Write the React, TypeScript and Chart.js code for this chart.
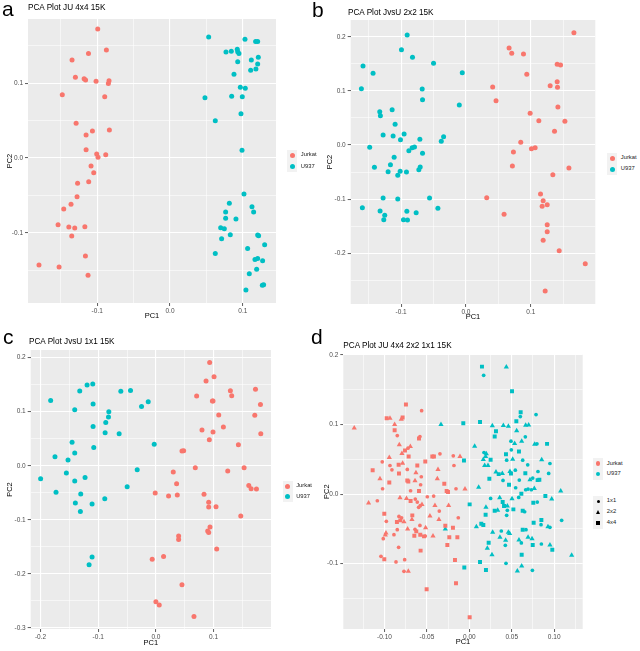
import React, { useEffect, useRef } from 'react';
import Chart from 'chart.js/auto';

const FONT = '"Liberation Sans", Arial, Helvetica, sans-serif';
const RED = '#F8766D';
const TEAL = '#00BFC4';

type Pt = [number, number];

// ---------- Panel a: PCA Plot JU 4x4 15K ----------
const aJurkat: Pt[] = [
  [-0.0993, 0.1728], [-0.112, 0.140], [-0.0874, 0.1446], [-0.1346, 0.1313], [-0.130, 0.108],
  [-0.118, 0.106], [-0.116, 0.1045], [-0.1016, 0.1027], [-0.0838, 0.1036], [-0.0847, 0.0996],
  [-0.148, 0.0848], [-0.0897, 0.0821], [-0.129, 0.0464], [-0.1066, 0.0362], [-0.1153, 0.0308],
  [-0.0833, 0.0375], [-0.1153, 0.0112], [-0.1007, 0.0054], [-0.0883, 0.0045], [-0.0989, 0.0009],
  [-0.1085, -0.0107], [-0.1048, -0.0196], [-0.127, -0.0339], [-0.1117, -0.0317], [-0.1277, -0.0518],
  [-0.136, -0.062], [-0.146, -0.0683], [-0.1538, -0.0893], [-0.139, -0.0924], [-0.1309, -0.0937],
  [-0.117, -0.092], [-0.135, -0.1045], [-0.1162, -0.1313], [-0.180, -0.1433], [-0.1524, -0.146],
  [-0.1126, -0.157],
];
const aU937: Pt[] = [
  [0.0531, 0.162], [0.103, 0.159], [0.1176, 0.156], [0.1204, 0.156], [0.0924, 0.1455],
  [0.093, 0.1424], [0.0947, 0.140], [0.0769, 0.142], [0.0842, 0.143], [0.1213, 0.1348],
  [0.1117, 0.1313], [0.093, 0.129], [0.1204, 0.126], [0.1108, 0.1174], [0.118, 0.119],
  [0.0879, 0.112], [0.0966, 0.0946], [0.1034, 0.0933], [0.048, 0.0808], [0.0847, 0.0826],
  [0.0993, 0.0821], [0.0975, 0.0594], [0.0622, 0.050], [0.0989, 0.0103], [0.1016, -0.0482],
  [0.0815, -0.0607], [0.1126, -0.0652], [0.1149, -0.0723], [0.0764, -0.0723], [0.0764, -0.0808],
  [0.0906, -0.0817], [0.0696, -0.0933], [0.0746, -0.0946], [0.0828, -0.1027], [0.0709, -0.108],
  [0.1204, -0.1031], [0.1217, -0.104], [0.130, -0.116], [0.1066, -0.121], [0.0622, -0.128],
  [0.1204, -0.1344], [0.1167, -0.1357], [0.1272, -0.1375], [0.119, -0.149], [0.1089, -0.155],
  [0.1286, -0.1696], [0.1268, -0.1705], [0.1043, -0.1768],
];
const aXTicks = [-0.1, 0, 0.1];
const aXLabels = ['-0.1', '0.0', '0.1'];
const aYTicks = [-0.1, 0, 0.1];
const aYLabels = ['-0.1', '0.0', '0.1'];

// ---------- Panel b: PCA Plot JvsU 2x2 15K ----------
const bJurkat: Pt[] = [
  [0.1665, 0.2077], [0.0665, 0.1794], [0.0706, 0.1695], [0.0887, 0.1683], [0.0938, 0.1307],
  [0.1407, 0.1492], [0.1459, 0.148], [0.1299, 0.1097], [0.1407, 0.1171], [0.1412, 0.1066],
  [0.0412, 0.1072], [0.0464, 0.082], [0.1418, 0.0703], [0.099, 0.0586], [0.1124, 0.045],
  [0.1526, 0.0438], [0.1366, 0.0253], [0.0845, 0.0049], [0.1067, -0.0049], [0.101, -0.0068],
  [0.0732, -0.0129], [0.0716, -0.0388], [0.1588, -0.0425], [0.134, -0.0549], [0.032, -0.0974],
  [0.115, -0.0906], [0.1191, -0.1029], [0.1175, -0.1134], [0.1253, -0.1103], [0.0588, -0.1282],
  [0.1253, -0.1473], [0.1253, -0.1602], [0.1191, -0.1763], [0.1438, -0.1954], [0.184, -0.2194],
  [0.1222, -0.270],
];
const bU937: Pt[] = [
  [-0.0907, 0.2034], [-0.0995, 0.1763], [-0.0825, 0.1621], [-0.1588, 0.146], [-0.1433, 0.1325],
  [-0.050, 0.151], [-0.0057, 0.1337], [-0.1613, 0.1042], [-0.0675, 0.1035], [-0.067, 0.0838],
  [-0.0103, 0.074], [-0.1139, 0.0653], [-0.133, 0.0616], [-0.132, 0.0542], [-0.1093, 0.0382],
  [-0.1278, 0.0185], [-0.1124, 0.0166], [-0.0954, 0.0203], [-0.101, 0.0099], [-0.0711, 0.0105],
  [-0.0345, 0.0154], [-0.0381, 0.0068], [-0.1485, -0.0043], [-0.083, -0.0049], [-0.0794, -0.0037],
  [-0.0881, -0.0105], [-0.067, -0.0154], [-0.1108, -0.0228], [-0.1165, -0.0364], [-0.1412, -0.0413],
  [-0.0706, -0.0407], [-0.0727, -0.0456], [-0.1201, -0.0493], [-0.1015, -0.0487], [-0.0918, -0.0499],
  [-0.1052, -0.0561], [-0.1278, -0.098], [-0.1052, -0.0998], [-0.0562, -0.098], [-0.1598, -0.1159],
  [-0.0433, -0.1171], [-0.1325, -0.122], [-0.0912, -0.1226], [-0.0768, -0.1251], [-0.1253, -0.130],
  [-0.1268, -0.138], [-0.0964, -0.138], [-0.0902, -0.1387],
];
const bXTicks = [-0.1, 0, 0.1];
const bXLabels = ['-0.1', '0.0', '0.1'];
const bYTicks = [-0.2, -0.1, 0, 0.1, 0.2];
const bYLabels = ['-0.2', '-0.1', '0.0', '0.1', '0.2'];

// ---------- Panel c: PCA Plot JvsU 1x1 15K ----------
const cJurkat: Pt[] = [
  [0.0932, 0.1911], [0.1008, 0.1646], [0.0869, 0.1566], [0.1726, 0.1412], [0.1291, 0.1387],
  [0.1314, 0.1295], [0.0706, 0.1289], [0.0979, 0.1196], [0.099, 0.1196], [0.1812, 0.1134],
  [0.1089, 0.0937], [0.1714, 0.0931], [0.117, 0.0715], [0.0799, 0.066], [0.099, 0.0623],
  [0.1818, 0.0592], [0.0926, 0.0481], [0.143, 0.0388], [0.0452, 0.0271], [0.0481, 0.0277],
  [0.0683, -0.0037], [0.1529, -0.0037], [0.1245, -0.0099], [0.0301, -0.0117], [0.0359, -0.0333],
  [0.161, -0.0364], [0.165, -0.0425], [0.1743, -0.0432], [-0.0012, -0.0506], [0.022, -0.0561],
  [0.0371, -0.0543], [0.0834, -0.053], [0.0915, -0.0678], [0.0915, -0.0764], [0.1042, -0.0758],
  [0.1471, -0.0931], [0.0938, -0.1134], [0.0898, -0.1208], [0.0915, -0.1233], [0.0394, -0.1301],
  [0.0394, -0.1363], [0.1054, -0.1541], [-0.0064, -0.1732], [0.0133, -0.1677], [0.0452, -0.2201],
  [0.0, -0.2515], [0.0058, -0.2577], [0.066, -0.2787],
];
const cU937: Pt[] = [
  [-0.1094, 0.151], [-0.1193, 0.1492], [-0.132, 0.138], [-0.1824, 0.1208], [-0.1089, 0.114],
  [-0.1407, 0.1036], [-0.0608, 0.1375], [-0.044, 0.1393], [-0.0133, 0.1184], [-0.0249, 0.1097],
  [-0.0816, 0.0999], [-0.0822, 0.090], [-0.0869, 0.0801], [-0.1089, 0.0727], [-0.088, 0.061],
  [-0.0637, 0.0592], [-0.1453, 0.0432], [-0.1077, 0.0339], [-0.0029, 0.0395], [-0.1407, 0.0234],
  [-0.1749, 0.0166], [-0.1523, 0.0105], [-0.0324, -0.0074], [-0.1552, -0.0136], [-0.1998, -0.024],
  [-0.1228, -0.0216], [-0.1407, -0.0284], [-0.0498, -0.0388], [-0.1731, -0.0493], [-0.1303, -0.0524],
  [-0.0886, -0.061], [-0.1396, -0.069], [-0.1106, -0.0709], [-0.1309, -0.0845], [-0.1106, -0.1689],
  [-0.1158, -0.1831],
];
const cXTicks = [-0.2, -0.1, 0, 0.1];
const cXLabels = ['-0.2', '-0.1', '0.0', '0.1'];
const cYTicks = [-0.3, -0.2, -0.1, 0, 0.1, 0.2];
const cYLabels = ['-0.3', '-0.2', '-0.1', '0.0', '0.1', '0.2'];

// ---------- Panel d: PCA Plot JU 4x4 2x2 1x1 15K ----------
const dJurkat1x1: Pt[] = [
  [-0.0562, 0.120], [-0.0849, 0.0842], [-0.0582, 0.0828], [-0.0723, 0.066], [-0.1026, 0.0464],
  [-0.0935, 0.0411], [-0.0912, 0.0349], [-0.0731, 0.0354], [-0.0566, 0.0249], [-0.0346, 0.0579],
  [-0.0189, 0.055], [-0.0181, 0.0411], [-0.1022, 0.0077], [-0.0574, 0.0134], [-0.0692, 0.0048],
  [-0.0157, 0.0077], [-0.042, -0.0029], [-0.0495, -0.0038], [-0.1084, -0.0096], [-0.0637, -0.0072],
  [-0.0613, -0.0115], [-0.0578, -0.0167], [-0.0597, -0.0191], [-0.0354, -0.0244], [-0.013, -0.034],
  [-0.0829, -0.0321], [-0.0798, -0.034], [-0.0978, -0.0392], [-0.0582, -0.045], [-0.064, -0.0507],
  [-0.0888, -0.0584], [-0.0849, -0.0512], [-0.0519, -0.0603], [-0.1014, -0.0641], [-0.0833, -0.0766],
  [-0.1041, -0.0895], [-0.0864, -0.0976], [-0.0762, -0.0943], [-0.077, -0.111],
];
const dJurkat2x2: Pt[] = [
  [-0.1356, 0.0952], [-0.0935, 0.109], [-0.0802, 0.1077], [-0.088, 0.100], [-0.0825, 0.0708],
  [-0.0695, 0.0684], [-0.0794, 0.0584], [-0.0943, 0.0526], [-0.0786, 0.0445], [-0.0629, 0.0306],
  [-0.0369, 0.0354], [-0.0377, 0.022], [-0.011, 0.0541], [-0.1053, 0.022], [-0.064, 0.0191],
  [-0.0051, 0.0072], [-0.1187, -0.0129], [-0.0817, -0.0053], [-0.074, -0.0062], [-0.0558, -0.0148],
  [-0.0405, -0.0163], [-0.0244, -0.0163], [-0.0464, -0.0316], [-0.077, -0.0397], [-0.0676, -0.0364],
  [-0.0358, -0.0364], [-0.0515, -0.0483], [-0.0727, -0.0502], [-0.0982, -0.056], [-0.099, -0.059],
  [-0.0428, -0.0603], [-0.0719, -0.111],
];
const dJurkat4x4: Pt[] = [
  [-0.0747, 0.1287], [-0.0974, 0.109], [-0.0786, 0.110], [-0.088, 0.0919], [-0.0593, 0.0799],
  [-0.0758, 0.0627], [-0.0715, 0.0541], [-0.0833, 0.0421], [-0.0613, 0.0411], [-0.0829, 0.0297],
  [-0.0519, 0.0469], [-0.0436, 0.0541], [-0.0417, 0.0541], [-0.0295, 0.0148], [-0.1139, 0.0344],
  [-0.0943, 0.0167], [-0.0731, 0.0196], [-0.0719, 0.0182], [-0.0593, 0.0043], [-0.0267, 0.0043],
  [-0.0251, 0.0029], [-0.0692, -0.01], [-0.1002, -0.0282], [-0.0672, -0.0306], [-0.0813, -0.0378],
  [-0.0853, -0.0402], [-0.0625, -0.0536], [-0.0193, -0.0483], [-0.0283, -0.0455], [-0.0578, -0.0584],
  [-0.0534, -0.0608], [-0.0648, -0.0598], [-0.0236, -0.0622], [-0.0141, -0.0622], [-0.0259, -0.0732],
  [-0.0574, -0.0813], [-0.1002, -0.0938], [-0.0169, -0.0947], [-0.0157, -0.1282], [-0.0503, -0.1368],
  [0.0004, -0.177],
];
const dU9371x1: Pt[] = [
  [0.0169, 0.1708], [0.0601, 0.1115], [0.0786, 0.1144], [0.066, 0.0823], [0.0491, 0.0761],
  [0.0797, 0.0722], [0.0173, 0.0598], [0.044, 0.0488], [0.0495, 0.0636], [0.0629, 0.0488],
  [0.0688, 0.0421], [0.0809, 0.0325], [0.095, 0.044], [0.0935, 0.0297], [0.0542, 0.0344],
  [0.0397, 0.0196], [0.0589, 0.0201], [0.0747, 0.023], [0.0546, 0.0091], [0.0664, 0.0062],
  [0.0692, 0.0072], [0.0731, 0.0062], [0.0251, -0.0062], [0.0582, -0.0048], [0.0448, -0.0234],
  [0.0652, -0.0254], [0.0801, -0.0115], [0.044, -0.0306], [0.1088, -0.0378], [0.0845, -0.044],
  [0.095, -0.0478], [0.0377, -0.0531], [0.0668, -0.0512], [0.0424, -0.0737], [0.0613, -0.0703],
  [0.0849, -0.0718], [0.0432, -0.0995], [0.0743, -0.1096],
];
const dU9372x2: Pt[] = [
  [0.0436, 0.1828], [-0.0334, 0.100], [0.0271, 0.0981], [0.0401, 0.0986], [0.046, 0.0976],
  [0.0664, 0.099], [0.0699, 0.0995], [0.0558, 0.0909], [0.0534, 0.0727], [0.0617, 0.0761],
  [0.077, 0.0718], [0.0063, 0.0689], [0.02, 0.0579], [0.0192, 0.0541], [0.0165, 0.0498],
  [0.0511, 0.0502], [0.0853, 0.0493], [0.0181, 0.0411], [0.022, 0.0411], [0.0314, 0.0316],
  [0.0389, 0.0297], [0.0479, 0.0325], [0.0715, 0.0206], [0.011, 0.01], [0.0766, 0.0081],
  [0.1077, 0.0043], [0.0971, -0.0072], [0.0196, -0.0191], [0.0358, -0.0053], [0.0503, -0.0067],
  [0.0448, -0.0172], [0.0334, -0.0234], [0.0927, -0.0469], [0.0083, -0.0469], [-0.0283, -0.0502],
  [0.0275, -0.055], [0.046, -0.055], [0.0475, -0.0565], [0.0361, -0.0622], [0.0428, -0.0665],
  [0.0585, -0.066], [0.0692, -0.0622], [0.0739, -0.0641], [0.095, -0.0732], [0.0212, -0.078],
  [0.0267, -0.0871], [0.1206, -0.088], [0.0617, -0.1033], [0.0566, -0.1105],
];
const dU9374x4: Pt[] = [
  [0.0149, 0.1833], [0.0503, 0.1478], [0.0126, 0.1038], [-0.0071, 0.1019], [0.0605, 0.1177],
  [0.0554, 0.1048], [0.0314, 0.0904], [0.0299, 0.0828], [0.0916, 0.0722], [0.0251, 0.0493],
  [-0.0063, 0.0483], [0.0432, 0.0574], [0.0585, 0.0612], [0.066, 0.0301], [0.0346, 0.0287],
  [0.0491, 0.0297], [0.0236, 0.022], [0.0805, 0.0201], [0.0825, 0.0206], [0.0468, 0.0134],
  [0.0613, 0.0005], [0.0896, -0.0029], [0.0004, -0.0148], [0.0393, -0.0115], [0.0409, -0.0172],
  [0.0519, -0.022], [0.0299, -0.0239], [0.0629, -0.0239], [0.0754, -0.0124], [0.0192, -0.0297],
  [0.0849, -0.0373], [0.0758, -0.0411], [0.0141, -0.0426], [0.0165, -0.0445], [0.0629, -0.0512],
  [0.0228, -0.0699], [0.0747, -0.0732], [0.0978, -0.0799], [0.0617, -0.0871], [0.0126, -0.0976],
  [0.0196, -0.1091], [-0.0059, -0.1057],
];
const dXTicks = [-0.1, -0.05, 0, 0.05, 0.1];
const dXLabels = ['-0.10', '-0.05', '0.00', '0.05', '0.10'];
const dYTicks = [-0.1, 0, 0.1, 0.2];
const dYLabels = ['-0.1', '0.0', '0.1', '0.2'];

const groupNames = ['Jurkat', 'U937'];
const sizeNames = ['1x1', '2x2', '4x4'];

// ---------------------------------------------------------------

type AxisSpec = { min: number; max: number; ticks: number[]; labels: string[]; title: string };
type Series = { data: Pt[]; color: string; shape: 'circle' | 'triangle' | 'rect'; radius: number };
type PanelSpec = {
  box: { left: number; top: number; width: number; height: number };
  plot: { left: number; top: number; right: number; bottom: number };
  x: AxisSpec;
  y: AxisSpec;
  series: Series[];
  xTitlePad: number;
  yTitlePad: number;
};

const near = (a: number, b: number) => Math.abs(a - b) < 1e-7;

function axisOptions(ax: AxisSpec, horizontal: boolean, fitSize: number, titlePad: number) {
  const step = ax.ticks[1] - ax.ticks[0];
  const vals: number[] = [];
  const push = (v: number) => {
    const r = Math.round(v * 1e6) / 1e6;
    if (r >= ax.min - 1e-9 && r <= ax.max + 1e-9 && !vals.some((u) => near(u, r))) vals.push(r);
  };
  ax.ticks.forEach((m) => { push(m - step / 2); push(m); push(m + step / 2); });
  vals.sort((p, q) => p - q);
  const majorIdx = (v: any) => (typeof v === 'number' ? ax.ticks.findIndex((m) => near(m, v)) : -1);
  return {
    type: 'linear' as const,
    min: ax.min,
    max: ax.max,
    offset: false,
    afterBuildTicks: (scale: any) => { scale.ticks = vals.map((v) => ({ value: v })); },
    afterFit: (scale: any) => { if (horizontal) scale.height = fitSize; else scale.width = fitSize; },
    ticks: {
      autoSkip: false,
      maxRotation: 0,
      minRotation: 0,
      color: '#4D4D4D',
      font: { family: FONT, size: 6.5, lineHeight: 1 },
      padding: horizontal ? 1.5 : 2,
      callback: (v: any) => { const i = majorIdx(v); return i >= 0 ? ax.labels[i] : ''; },
    },
    grid: {
      color: '#FFFFFF',
      lineWidth: (c: any) => (majorIdx(c.tick?.value) >= 0 ? 1.1 : 0.55),
      tickColor: (c: any) => (majorIdx(c.tick?.value) >= 0 ? '#333333' : 'rgba(0,0,0,0)'),
      tickWidth: 0.8,
      tickLength: 3,
      drawTicks: true,
      drawOnChartArea: true,
    },
    border: { display: false },
    title: {
      display: true,
      text: ax.title,
      color: '#000000',
      font: { family: FONT, size: 7.5, lineHeight: 1 },
      padding: horizontal ? { top: 0, bottom: titlePad } : { top: titlePad, bottom: 0 },
    },
  };
}

const panelBg = {
  id: 'panelBg',
  beforeDraw(chart: any) {
    const { ctx, chartArea } = chart;
    ctx.save();
    ctx.fillStyle = '#EBEBEB';
    ctx.fillRect(chartArea.left, chartArea.top, chartArea.right - chartArea.left, chartArea.bottom - chartArea.top);
    ctx.restore();
  },
};

function buildChart(canvas: HTMLCanvasElement, spec: PanelSpec) {
  const { box, plot } = spec;
  return new Chart(canvas, {
    type: 'scatter',
    data: {
      datasets: spec.series.map((s) => ({
        data: s.data.map(([x, y]) => ({ x, y })),
        pointStyle: s.shape,
        pointRadius: s.radius,
        pointHoverRadius: s.radius,
        backgroundColor: s.color,
        borderColor: s.color,
        borderWidth: 0,
      })),
    },
    options: {
      responsive: false,
      maintainAspectRatio: false,
      animation: false,
      devicePixelRatio: 1,
      events: [],
      layout: {
        padding: { top: plot.top - box.top, right: box.left + box.width - plot.right, left: 0, bottom: 0 },
      },
      plugins: { legend: { display: false }, tooltip: { enabled: false }, title: { display: false } },
      scales: {
        x: axisOptions(spec.x, true, box.top + box.height - plot.bottom, spec.xTitlePad),
        y: axisOptions(spec.y, false, plot.left - box.left, spec.yTitlePad),
      },
    } as any,
    plugins: [panelBg],
  });
}

const PR = 2.5; // point radius panels a-c

const panels: PanelSpec[] = [
  {
    box: { left: 0, top: 0, width: 280, height: 322 },
    plot: { left: 28, top: 19, right: 276, bottom: 303 },
    x: { min: -0.1951, max: 0.1456, ticks: aXTicks, labels: aXLabels, title: 'PC1' },
    y: { min: -0.1941, max: 0.1861, ticks: aYTicks, labels: aYLabels, title: 'PC2' },
    series: [
      { data: aJurkat, color: RED, shape: 'circle', radius: PR },
      { data: aU937, color: TEAL, shape: 'circle', radius: PR },
    ],
    xTitlePad: 2.5,
    yTitlePad: 6.5,
  },
  {
    box: { left: 320, top: 0, width: 280, height: 322 },
    plot: { left: 350.7, top: 20, right: 595.3, bottom: 304 },
    x: { min: -0.1778, max: 0.1995, ticks: bXTicks, labels: bXLabels, title: 'PC1' },
    y: { min: -0.294, max: 0.2311, ticks: bYTicks, labels: bYLabels, title: 'PC2' },
    series: [
      { data: bJurkat, color: RED, shape: 'circle', radius: PR },
      { data: bU937, color: TEAL, shape: 'circle', radius: PR },
    ],
    xTitlePad: 1.8,
    yTitlePad: 6.5,
  },
  {
    box: { left: 0, top: 325, width: 280, height: 326 },
    plot: { left: 30.7, top: 350, right: 271, bottom: 629 },
    x: { min: -0.217, max: 0.1995, ticks: cXTicks, labels: cXLabels, title: 'PC1' },
    y: { min: -0.302, max: 0.214, ticks: cYTicks, labels: cYLabels, title: 'PC2' },
    series: [
      { data: cJurkat, color: RED, shape: 'circle', radius: PR },
      { data: cU937, color: TEAL, shape: 'circle', radius: PR },
    ],
    xTitlePad: 4.8,
    yTitlePad: 6.5,
  },
  {
    box: { left: 320, top: 325, width: 270, height: 326 },
    plot: { left: 343.3, top: 354.3, right: 582.7, bottom: 629 },
    x: { min: -0.1485, max: 0.1336, ticks: dXTicks, labels: dXLabels, title: 'PC1' },
    y: { min: -0.194, max: 0.201, ticks: dYTicks, labels: dYLabels, title: 'PC2' },
    series: [
      { data: dJurkat1x1, color: RED, shape: 'circle', radius: 1.85 },
      { data: dJurkat2x2, color: RED, shape: 'triangle', radius: 3.0 },
      { data: dJurkat4x4, color: RED, shape: 'rect', radius: 2.8 },
      { data: dU9371x1, color: TEAL, shape: 'circle', radius: 1.85 },
      { data: dU9372x2, color: TEAL, shape: 'triangle', radius: 3.0 },
      { data: dU9374x4, color: TEAL, shape: 'rect', radius: 2.8 },
    ],
    xTitlePad: 5.8,
    yTitlePad: 3.2,
  },
];

const titles = [
  { text: 'PCA Plot JU 4x4 15K', x: 28, y: 8.3 },
  { text: 'PCA Plot JvsU 2x2 15K', x: 348, y: 12.7 },
  { text: 'PCA Plot JvsU 1x1 15K', x: 29, y: 341.7 },
  { text: 'PCA Plot JU 4x4 2x2 1x1 15K', x: 343.3, y: 346 },
];

const letters = [
  { text: 'a', x: 2, baseline: 16 },
  { text: 'b', x: 312, baseline: 16.5 },
  { text: 'c', x: 3, baseline: 343.3 },
  { text: 'd', x: 311, baseline: 343.3 },
];

const colorLegends = [
  { x: 287.3, ys: [155.3, 166.7] },
  { x: 607.3, ys: [158.3, 169.3] },
  { x: 282.7, ys: [486, 496.7] },
  { x: 593.3, ys: [463.7, 474.3] },
];
const shapeLegend = { x: 593.3, ys: [501.3, 512.3, 523.3] };

const KEY_W = 10;
const KEY_H = 11;

function Key({ x, y, children }: { x: number; y: number; children: React.ReactNode }) {
  return (
    <div
      style={{
        position: 'absolute', left: x, top: y - KEY_H / 2, width: KEY_W, height: KEY_H,
        background: '#F2F2F2', display: 'flex', alignItems: 'center', justifyContent: 'center',
      }}
    >
      {children}
    </div>
  );
}

function Label({ text, x, y, size, color = '#000' }: { text: string; x: number; y: number; size: number; color?: string }) {
  return (
    <div
      style={{
        position: 'absolute', left: x, top: y, transform: 'translateY(-50%)', fontFamily: FONT,
        fontSize: size, lineHeight: 1, color, whiteSpace: 'nowrap',
      }}
    >
      {text}
    </div>
  );
}

export default function App() {
  const refs = [useRef<HTMLCanvasElement>(null), useRef<HTMLCanvasElement>(null), useRef<HTMLCanvasElement>(null), useRef<HTMLCanvasElement>(null)];

  useEffect(() => {
    const charts = panels.map((p, i) => buildChart(refs[i].current as HTMLCanvasElement, p));
    return () => charts.forEach((c) => c.destroy());
  }, []);

  const shapeGlyph = (i: number) => {
    if (i === 0) return <div style={{ width: 3.6, height: 3.6, borderRadius: '50%', background: '#000' }} />;
    if (i === 1)
      return (
        <div style={{ width: 0, height: 0, borderLeft: '2.6px solid transparent', borderRight: '2.6px solid transparent', borderBottom: '4.4px solid #000' }} />
      );
    return <div style={{ width: 4, height: 4, background: '#000' }} />;
  };

  return (
    <div style={{ position: 'absolute', left: 0, top: 0, width: 640, height: 651, background: '#fff', overflow: 'hidden' }}>
      {panels.map((p, i) => (
        <canvas
          key={i}
          ref={refs[i]}
          width={p.box.width}
          height={p.box.height}
          style={{ position: 'absolute', left: p.box.left, top: p.box.top, width: p.box.width, height: p.box.height }}
        />
      ))}
      {titles.map((t, i) => (
        <Label key={'t' + i} text={t.text} x={t.x} y={t.y} size={8.2} />
      ))}
      {letters.map((l, i) => (
        <div
          key={'l' + i}
          style={{ position: 'absolute', left: l.x, top: l.baseline - 17.8, fontFamily: FONT, fontSize: 21, lineHeight: 1, color: '#000' }}
        >
          {l.text}
        </div>
      ))}
      {colorLegends.map((lg, i) => (
        <React.Fragment key={'cl' + i}>
          {groupNames.map((g, j) => (
            <React.Fragment key={g}>
              <Key x={lg.x} y={lg.ys[j]}>
                <div style={{ width: i === 3 ? 4.4 : 5, height: i === 3 ? 4.4 : 5, borderRadius: '50%', background: j === 0 ? RED : TEAL }} />
              </Key>
              <Label text={g} x={lg.x + KEY_W + 3.5} y={lg.ys[j]} size={5.8} color="#1a1a1a" />
            </React.Fragment>
          ))}
        </React.Fragment>
      ))}
      {sizeNames.map((s, j) => (
        <React.Fragment key={s}>
          <Key x={shapeLegend.x} y={shapeLegend.ys[j]}>{shapeGlyph(j)}</Key>
          <Label text={s} x={shapeLegend.x + KEY_W + 3.5} y={shapeLegend.ys[j]} size={5.8} color="#1a1a1a" />
        </React.Fragment>
      ))}
    </div>
  );
}
